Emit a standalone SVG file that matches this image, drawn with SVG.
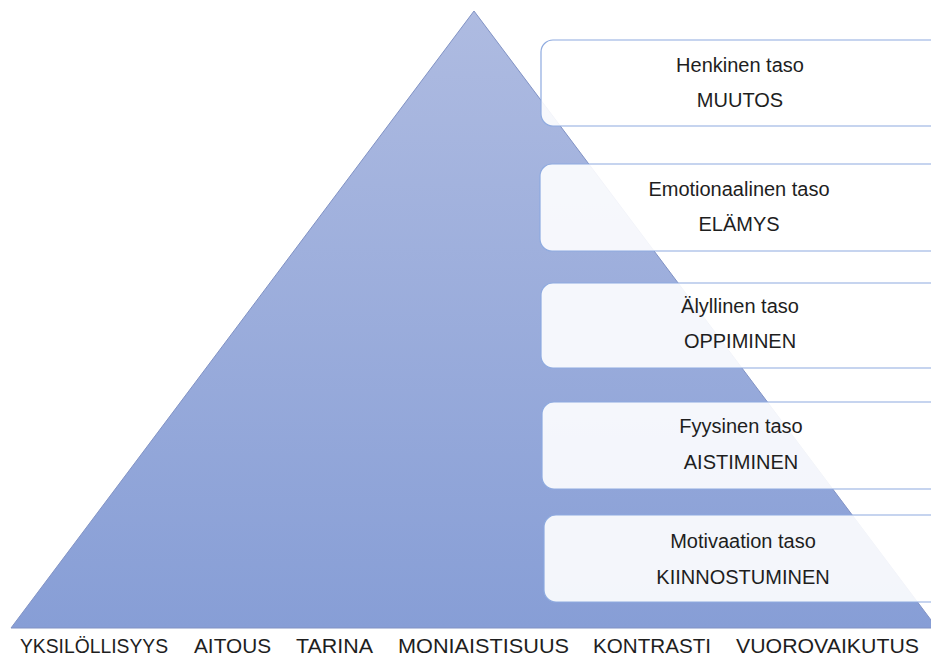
<svg xmlns="http://www.w3.org/2000/svg" width="931" height="658" viewBox="0 0 931 658">
  <defs>
    <linearGradient id="pyramidFill" x1="0" y1="11" x2="0" y2="628" gradientUnits="userSpaceOnUse">
      <stop offset="0" stop-color="#aebbe1"/>
      <stop offset="1" stop-color="#879ed6"/>
    </linearGradient>
  </defs>
  <style>
    .level { fill: #ffffff; fill-opacity: 0.9; stroke: #8eaadf; stroke-width: 1.2; }
    .lbl { font-family: "Liberation Sans", Arial, sans-serif; font-size: 20px; fill: #1e1e1e; text-anchor: middle; }
    .base { font-family: "Liberation Sans", Arial, sans-serif; font-size: 21px; fill: #1e1e1e; }
  </style>
  <rect width="931" height="658" fill="#ffffff"/>

  <!-- pyramid -->
  <g id="pyramid">
    <polygon points="474,11 937,628 11,628" fill="url(#pyramidFill)" stroke="#8092c4" stroke-width="1"/>
  </g>

  <!-- levels, top to bottom -->
  <g id="level-henkinen">
    <rect class="level" x="541" y="40" width="420" height="86" rx="12"/>
    <text class="lbl" x="740" y="72">Henkinen taso</text>
    <text class="lbl" x="740" y="107">MUUTOS</text>
  </g>
  <g id="level-emotionaalinen">
    <rect class="level" x="540" y="164" width="420" height="87" rx="12"/>
    <text class="lbl" x="739" y="196">Emotionaalinen taso</text>
    <text class="lbl" x="739" y="231">ELÄMYS</text>
  </g>
  <g id="level-alyllinen">
    <rect class="level" x="541" y="283" width="420" height="85" rx="12"/>
    <text class="lbl" x="740" y="313">Älyllinen taso</text>
    <text class="lbl" x="740" y="348">OPPIMINEN</text>
  </g>
  <g id="level-fyysinen">
    <rect class="level" x="542" y="402" width="420" height="87" rx="12"/>
    <text class="lbl" x="741" y="433">Fyysinen taso</text>
    <text class="lbl" x="741" y="469">AISTIMINEN</text>
  </g>
  <g id="level-motivaatio">
    <rect class="level" x="544" y="515" width="420" height="87" rx="12"/>
    <text class="lbl" x="743" y="548">Motivaation taso</text>
    <text class="lbl" x="743" y="584">KIINNOSTUMINEN</text>
  </g>

  <g id="connectors"/>

  <!-- principles along the base -->
  <g id="principles">
    <text class="base" x="20" y="653" textLength="148" lengthAdjust="spacingAndGlyphs">YKSILÖLLISYYS</text>
    <text class="base" x="194" y="653" textLength="77" lengthAdjust="spacingAndGlyphs">AITOUS</text>
    <text class="base" x="296" y="653" textLength="77" lengthAdjust="spacingAndGlyphs">TARINA</text>
    <text class="base" x="398" y="653" textLength="171" lengthAdjust="spacingAndGlyphs">MONIAISTISUUS</text>
    <text class="base" x="593" y="653" textLength="118" lengthAdjust="spacingAndGlyphs">KONTRASTI</text>
    <text class="base" x="736" y="653" textLength="183" lengthAdjust="spacingAndGlyphs">VUOROVAIKUTUS</text>
  </g>
</svg>
